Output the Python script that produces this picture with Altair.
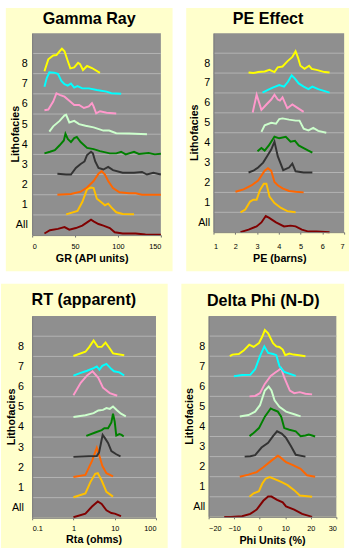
import altair as alt
import pandas as pd

FONT = "Liberation Sans"
LABELS = ["All", "1", "2", "3", "4", "5", "6", "7", "8"]
COLORS = ["#800000", "#FFC000", "#FF6600", "#333333", "#008000",
          "#CCFFCC", "#FF99CC", "#00FFFF", "#FFFF00"]
GRID_LINES = [1, 2, 3, 4, 5, 6, 7, 8, 9]
LABEL_POS = [0.5, 1.5, 2.5, 3.5, 4.5, 5.5, 6.5, 7.5, 8.5]

# ---- Gamma Ray (GR, API units): (x, height above facies baseline)
gr_all = [(14.3,0.08),(20.7,0.24),(30,0.31),(37.7,0.4),(43.3,0.27),(50.9,0.35),(58.4,0.47),(64,0.63),(68.6,0.76),(71.6,0.68),(77.3,0.55),(83,0.47),(90.5,0.35),(96.2,0.14),(105.5,0.08),(120.6,0.08),(132,0.03),(150,0.02)]
gr_1 = [(39.6,0.03),(52.8,0.2),(58.4,0.64),(64,1.28),(68.6,1.36),(71.6,1.33),(75.4,0.8),(81,0.61),(84.8,0.48),(88.6,0.56),(92.3,0.37),(98,0.13),(105.5,0.05),(118.7,0.03)]
gr_2 = [(29.4,0.0),(45.2,0.04),(56.5,0.15),(64,0.36),(71.6,0.68),(77.3,1.04),(81,1.17),(84.8,1.0),(88.6,0.68),(94.2,0.33),(101.8,0.12),(113,0.07),(120.6,0.07),(128,0.0),(150,0.0)]
gr_3 = [(29.4,0.04),(39.6,0.0),(45.2,0.0),(50.9,0.33),(56.5,0.52),(61,0.65),(64,0.97),(68.6,1.13),(70.8,1.05),(73.5,0.65),(77.3,0.33),(83,0.25),(88.6,0.38),(94.2,0.22),(105.5,0.09),(118.7,0.09),(128,0.13),(133.8,0.0),(141.3,0.09),(150,0.0)]
gr_4 = [(14.3,0.05),(20.7,0.13),(26.4,0.21),(32,0.45),(36.9,0.69),(38.8,1.02),(41.5,0.77),(45.2,0.61),(49,0.81),(52,0.86),(56.5,0.61),(64,0.32),(71.6,0.26),(79,0.16),(90.5,0.05),(98,0.05),(103.7,0.13),(109,0.0),(118.7,0.13),(124.4,0.02),(135.7,0.07),(143,0.0),(150,0.03)]
gr_5 = [(20,0.13),(24.5,0.39),(32,0.66),(37.7,0.93),(39.6,0.96),(43.3,0.58),(49,0.66),(54.7,0.5),(62.2,0.42),(71.6,0.34),(83,0.18),(89.7,0.18),(98,0.05),(113,0.03),(133.8,0.0)]
gr_6 = [(14.3,0.19),(18.8,0.22),(24.5,0.62),(28.3,1.03),(32,0.95),(37.7,0.86),(43.3,0.66),(49,0.45),(54.7,0.45),(60.3,0.3),(66,0.38),(69.7,0.54),(71.6,0.38),(74.6,0.03),(79.1,0.14),(86.7,0.06),(98,0.03)]
gr_7 = [(14.3,0.35),(17,0.78),(20,1.07),(25.6,1.05),(30,0.99),(34,0.64),(37.7,0.48),(41.5,0.41),(45.2,0.51),(49,0.31),(52.8,0.38),(58.4,0.27),(66,0.27),(75.4,0.19),(86.7,0.11),(92.3,0.03),(103.7,0.0)]
gr_8 = [(14.3,0.12),(18.8,0.71),(24.5,0.9),(28.3,0.92),(32,1.11),(34.7,1.24),(37.7,1.11),(41.5,0.63),(44.5,0.26),(49,0.31),(53.5,0.54),(55.8,0.47),(59.2,0.18),(64,0.38),(69.7,0.28),(79,0.04)]

# ---- PE effect (barns)
pe_all = [(2.24,0.0),(2.61,0.13),(2.98,0.29),(3.2,0.49),(3.4,0.81),(3.54,0.73),(3.87,0.49),(4.24,0.29),(4.54,0.33),(4.77,0.29),(5.06,0.13),(5.36,0.03),(5.73,0.03),(6.33,0.0)]
pe_1 = [(2.24,0.0),(2.46,0.14),(2.68,0.54),(2.83,0.63),(2.98,0.63),(3.13,1.11),(3.31,1.44),(3.43,1.44),(3.57,0.79),(3.8,0.46),(4.1,0.22),(4.39,0.06),(4.77,0.0)]
pe_2 = [(2.01,0.03),(2.38,0.15),(2.76,0.36),(3.05,0.6),(3.35,1.09),(3.5,1.22),(3.65,1.09),(3.8,0.52),(3.95,0.36),(4.17,0.2),(4.47,0.07),(4.77,0.03),(5.14,0.0)]
pe_3 = [(2.61,0.0),(2.83,0.09),(3.05,0.25),(3.28,0.5),(3.46,0.82),(3.65,1.15),(3.8,1.55),(3.95,0.82),(4.2,0.12),(4.47,0.25),(4.62,0.45),(4.77,0.06),(5.14,0.0),(5.36,0.0),(5.54,0.0)]
pe_4 = [(3.02,0.07),(3.2,0.23),(3.35,0.1),(3.54,0.36),(3.8,0.8),(4.02,0.72),(4.32,0.8),(4.54,0.55),(4.74,0.59),(4.91,0.36),(5.14,0.23),(5.36,0.1),(5.54,0.0)]
pe_5 = [(3.2,0.04),(3.35,0.37),(3.65,0.5),(3.87,0.45),(4.02,0.69),(4.17,0.72),(4.47,0.66),(4.77,0.61),(4.95,0.61),(5.14,0.2),(5.36,0.12),(5.58,0.24),(5.81,0.09),(6.18,0.0)]
pe_6 = [(2.8,0.02),(2.98,0.91),(3.2,0.15),(3.43,0.42),(3.65,0.67),(3.8,0.91),(3.95,0.67),(4.05,0.62),(4.17,0.78),(4.39,0.23),(4.62,0.42),(4.84,0.26),(5.14,0.05)]
pe_7 = [(3.25,0.02),(3.5,0.15),(3.72,0.27),(4.02,0.4),(4.24,0.32),(4.42,0.56),(4.59,0.89),(4.74,0.72),(4.91,0.48),(5.14,0.32),(5.36,0.19),(5.54,0.32),(5.81,0.19),(6.33,0.02)]
pe_8 = [(2.61,0.03),(2.83,0.0),(3.05,0.05),(3.35,0.08),(3.57,0.16),(3.8,0.05),(3.95,0.29),(4.17,0.33),(4.39,0.59),(4.62,0.81),(4.77,1.1),(4.88,0.78),(4.99,0.37),(5.18,0.21),(5.39,0.37),(5.51,0.21),(5.73,0.16),(6.1,0.05),(6.33,0.03)]

# ---- RT apparent (ohms, log axis)
rt_all = [(1.0,0.03),(1.95,0.21),(2.82,0.56),(3.89,0.81),(4.83,0.69),(6.3,0.37),(8.3,0.24),(10,0.21),(14.2,0.08)]
rt_1 = [(1.0,0.02),(1.95,0.21),(2.57,0.77),(3.37,1.18),(3.89,1.21),(4.83,0.85),(6.3,0.29),(9.1,0.05)]
rt_2 = [(1.0,0.02),(1.95,0.13),(2.82,0.82),(3.68,1.47),(4.26,1.06),(5.0,0.58),(6.3,0.21),(9.1,0.05)]
rt_3 = [(1.0,0.02),(2.34,0.05),(3.68,0.06),(4.17,0.23),(4.65,0.71),(5.1,1.11),(5.8,0.95),(6.9,0.71),(8.3,0.31),(10.9,0.15),(13.8,0.05)]
rt_4 = [(2.05,0.06),(3.37,0.23),(4.83,0.35),(5.6,0.44),(6.9,0.44),(8.3,0.73),(9.1,1.16),(10,0.76),(10.9,0.08),(13,0.15),(14.7,0.11),(16.5,0.03)]
rt_5 = [(1.0,0.0),(1.95,0.08),(3.08,0.19),(4.0,0.32),(5.2,0.35),(6.3,0.44),(7.6,0.4),(9.1,0.52),(11.5,0.32),(14.2,0.16),(18.6,0.03)]
rt_6 = [(1.0,0.08),(1.5,0.69),(2.14,1.06),(2.9,1.26),(4.0,0.94),(5.2,0.45),(7.6,0.18),(11.5,0.05)]
rt_7 = [(1.0,0.05),(1.5,0.18),(2.14,0.29),(3.08,0.42),(3.68,0.5),(4.26,0.34),(5.0,0.53),(6.3,0.63),(8.3,0.37),(9.6,0.26),(13,0.21),(17,0.05)]
rt_8 = [(1.0,0.02),(1.95,0.23),(2.43,0.47),(3.08,0.79),(3.89,0.47),(4.83,0.47),(6.0,0.68),(7.6,0.39),(9.1,0.15),(17,0.06)]

# ---- Delta Phi N-D (porosity units, %)
dp_all = [(-13.9,0.0),(-11.3,0.0),(-6.9,0.03),(-3.7,0.15),(-1.2,0.36),(1.4,0.8),(3.3,1.01),(4.6,1.01),(6.8,0.85),(9,0.72),(10.3,0.52),(13.5,0.36),(16.6,0.15),(20.5,0.0)]
dp_1 = [(-4,0.0),(-2.4,0.17),(-0.3,0.28),(1,0.66),(2.3,0.9),(3.9,0.98),(6.1,0.87),(8.4,0.74),(10.9,0.58),(13.5,0.33),(15.7,0.06),(20.5,0.0)]
dp_2 = [(-7.8,0.0),(-4.4,0.1),(-1.2,0.23),(1.4,0.47),(4.6,0.8),(7.1,1.04),(8.1,0.96),(10.3,0.72),(12.8,0.59),(16,0.39),(18.5,0.07),(21.7,0.0)]
dp_3 = [(-5.9,0.0),(-3.7,0.02),(-1.8,0.07),(0.7,0.45),(3.3,0.69),(5.2,1.02),(6.8,1.26),(8.6,1.15),(10.3,0.93),(12.2,0.53),(14.1,0.09),(17.9,0.0)]
dp_4 = [(-4,0.02),(-2.4,0.18),(-0.3,0.42),(2,0.99),(4.3,1.4),(5.6,1.32),(7.1,1.24),(8.4,0.99),(9.6,0.42),(11.6,0.34),(14.1,0.26),(16,0.02),(17.9,0.05),(19.2,0.1),(20.5,0.05),(21.7,0.0)]
dp_5 = [(-7.8,0.0),(-4.4,0.07),(-1.8,0.24),(0.1,0.56),(2,1.29),(3.5,1.49),(4.6,1.29),(5.8,0.8),(7.7,0.48),(10.3,0.24),(13.5,0.11),(16,0.0)]
dp_6 = [(-4,0.0),(-1.8,0.02),(0.1,0.16),(2,0.62),(4.3,1.02),(6.1,1.19),(7.4,1.3),(8.4,1.4),(9.6,0.94),(11.8,0.29),(13.5,0.16),(15.7,0.21),(17.9,0.13),(20.5,0.1)]
dp_7 = [(-10.1,0.0),(-6.9,0.06),(-3.7,0.07),(-1.8,0.35),(0.1,1.0),(1.8,1.49),(3.3,1.16),(5.2,1.11),(6.5,1.05),(7.7,0.51),(9.6,0.22),(14.1,0.02)]
dp_8 = [(-11.7,0.0),(-10.7,0.08),(-8.2,0.11),(-6.3,0.28),(-4.1,0.57),(-2.4,0.46),(-0.3,0.65),(1,0.98),(2,1.3),(3.3,1.14),(5.2,0.65),(6.5,0.49),(7.7,0.46),(9,0.33),(10,0.05),(11.6,0.13),(13.2,0.08),(15.4,0.05),(17.9,0.0)]

GR_TICKS = [0, 50, 100, 150]
PE_TICKS = [1, 2, 3, 4, 5, 6, 7]
RT_TICKS = [0.1, 1, 10, 100]
DP_TICKS = [-20, -10, 0, 10, 20, 30]


def text_layer(text, x, y, size, angle=0):
    return alt.Chart(pd.DataFrame({"t": [text]})).mark_text(
        font=FONT, fontSize=size, fontWeight="bold", color="black",
        align="center", baseline="alphabetic", angle=angle
    ).encode(x=alt.value(x), y=alt.value(y), text="t:N")


def make_panel(title, xtitle, curves, xscale, xticks, w, h, box,
               title_xy, ytitle_x, xtitle_xy, ylp, xlp):
    rows = []
    for i, pts in enumerate(curves):
        for k, (x, hh) in enumerate(pts):
            rows.append({"facies": LABELS[i], "x": x, "y": i + hh, "k": k})
    df = pd.DataFrame(rows)
    ysc = alt.Scale(domain=[0, 10], nice=False, zero=False)

    def y_axis():
        return alt.Axis(
            values=LABEL_POS,
            labelExpr="datum.value < 1 ? 'All' : '' + floor(datum.value)",
            title="", labelFont=FONT, labelFontSize=11, labelColor="black",
            labelPadding=ylp, ticks=False, tickSize=0, grid=False,
            minExtent=18, maxExtent=18, zindex=1,
            domainColor="#7A7A7A")

    card = alt.Chart(pd.DataFrame({"c": [0]})).mark_rect(
        color="#FFFFCC"
    ).encode(
        x=alt.value(box[0]), x2=alt.value(box[1]),
        y=alt.value(box[2]), y2=alt.value(box[3]),
    )
    plot_bg = alt.Chart(pd.DataFrame({"c": [0]})).mark_rect(
        color="#8F8F8F"
    ).encode(
        x=alt.value(0), x2=alt.value(w), y=alt.value(0), y2=alt.value(h),
    )
    grid = alt.Chart(pd.DataFrame({"g": GRID_LINES})).mark_rule(
        color="#B4B4B4", strokeWidth=1
    ).encode(
        y=alt.Y("g:Q", scale=ysc, axis=y_axis())
    )
    lines = alt.Chart(df).mark_line(strokeWidth=2).encode(
        x=alt.X("x:Q", scale=xscale, axis=alt.Axis(
            values=xticks, title="", grid=False,
            labelExpr="format(datum.value, '~g')",
            labelFont=FONT, labelFontSize=7.5, labelColor="black",
            labelBaseline="alphabetic", labelPadding=xlp,
            tickSize=2, tickColor="#6E6E6E",
            minExtent=16, maxExtent=16, zindex=1,
            domainColor="#7A7A7A")),
        y=alt.Y("y:Q", scale=ysc, axis=y_axis()),
        color=alt.Color("facies:N", scale=alt.Scale(domain=LABELS, range=COLORS), legend=None),
        order="k:Q",
    )
    t_main = text_layer(title, title_xy[0], title_xy[1], 16.5)
    t_y = text_layer("Lithofacies", ytitle_x, h / 2, 11, angle=270)
    t_x = text_layer(xtitle, xtitle_xy[0], xtitle_xy[1], 11)
    return alt.layer(card, plot_bg, grid, lines, t_main, t_y, t_x).properties(
        width=w, height=h,
    )


p1 = make_panel("Gamma Ray", "GR (API units)",
                [gr_all, gr_1, gr_2, gr_3, gr_4, gr_5, gr_6, gr_7, gr_8],
                alt.Scale(domain=[0, 150], nice=False), GR_TICKS,
                w=132, h=207, box=(-27, 144, -26, 244),
                title_xy=(58.5, -9.2), ytitle_x=-13, xtitle_xy=(61.5, 234.5),
                ylp=5, xlp=11.5)
p2 = make_panel("PE Effect", "PE (barns)",
                [pe_all, pe_1, pe_2, pe_3, pe_4, pe_5, pe_6, pe_7, pe_8],
                alt.Scale(domain=[1, 7], nice=False, zero=False), PE_TICKS,
                w=134, h=204, box=(-28, 139, -26, 244),
                title_xy=(56, -9.2), ytitle_x=-16, xtitle_xy=(68, 234.5),
                ylp=4, xlp=15)
p3 = make_panel("RT (apparent)", "Rta (ohms)",
                [rt_all, rt_1, rt_2, rt_3, rt_4, rt_5, rt_6, rt_7, rt_8],
                alt.Scale(type="log", domain=[0.1, 100], nice=False), RT_TICKS,
                w=127, h=207, box=(-32, 139, -33, 238),
                title_xy=(53, -11.2), ytitle_x=-18, xtitle_xy=(63.5, 232.5),
                ylp=9, xlp=11.5)
p4 = make_panel("Delta Phi (N-D)", "Phi Units (%)",
                [dp_all, dp_1, dp_2, dp_3, dp_4, dp_5, dp_6, dp_7, dp_8],
                alt.Scale(domain=[-20, 30], nice=False, zero=False), DP_TICKS,
                w=131, h=206, box=(-28, 139, -33, 238),
                title_xy=(56, -10.2), ytitle_x=-16, xtitle_xy=(65.5, 233.5),
                ylp=4, xlp=12.5)

chart = alt.vconcat(
    alt.hconcat(p1, p2, spacing=12),
    alt.hconcat(p3, p4, spacing=12),
    spacing=11,
).properties(
    background="white",
    padding={"left": 0, "top": 0, "right": 0, "bottom": 0},
).configure_view(stroke="transparent")

chart.save("out.html", embed_options={"renderer": "svg", "actions": False})
